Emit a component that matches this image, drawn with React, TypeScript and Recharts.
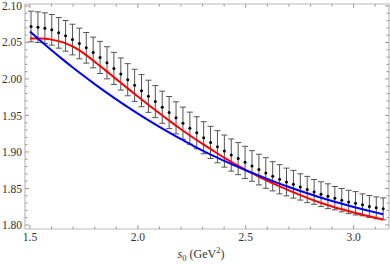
import React from 'react';
import { ComposedChart, XAxis, YAxis, Scatter, ErrorBar, Line, ReferenceArea } from 'recharts';

// s0 values of the sum-rule points (GeV^2)
const S0 = [
  1.505, 1.537, 1.569, 1.601, 1.633, 1.665, 1.697, 1.729, 1.761, 1.793,
  1.825, 1.857, 1.889, 1.921, 1.953, 1.985, 2.017, 2.049, 2.081, 2.113,
  2.145, 2.177, 2.209, 2.241, 2.273, 2.305, 2.337, 2.369, 2.401, 2.433,
  2.465, 2.497, 2.529, 2.561, 2.593, 2.625, 2.657, 2.689, 2.721, 2.753,
  2.785, 2.817, 2.849, 2.881, 2.913, 2.945, 2.977, 3.009, 3.041, 3.073,
  3.105, 3.137,
];
const CENTRAL = [
  2.0718, 2.0709, 2.0696, 2.0673, 2.0632, 2.0591, 2.054, 2.0486, 2.0427, 2.0363,
  2.0295, 2.0222, 2.0145, 2.0068, 1.999, 1.9913, 1.984, 1.9763, 1.969, 1.9613,
  1.954, 1.9468, 1.9394, 1.9326, 1.9263, 1.9195, 1.9131, 1.9072, 1.9012, 1.8958,
  1.8909, 1.8858, 1.8808, 1.8759, 1.8712, 1.8667, 1.8626, 1.8589, 1.8558, 1.8521,
  1.8486, 1.8453, 1.8422, 1.8394, 1.8367, 1.834, 1.8315, 1.8297, 1.8276, 1.8254,
  1.8235, 1.8221,
];
const ERR = [
  0.021, 0.021, 0.021, 0.021, 0.021, 0.021, 0.021, 0.021, 0.021, 0.021,
  0.022, 0.022, 0.022, 0.022, 0.022, 0.022, 0.022, 0.022, 0.022, 0.022,
  0.022, 0.022, 0.022, 0.022, 0.022, 0.022, 0.022, 0.022, 0.022, 0.022,
  0.022, 0.022, 0.021, 0.021, 0.021, 0.020, 0.020, 0.019, 0.019, 0.018,
  0.018, 0.017, 0.017, 0.017, 0.016, 0.016, 0.016, 0.016, 0.015, 0.015,
  0.015, 0.015,
];

// curve sample abscissae
const CURVE_S0 = [
  1.5, 1.55, 1.6, 1.65, 1.7, 1.75, 1.8, 1.85, 1.9, 1.95,
  2.0, 2.05, 2.1, 2.15, 2.2, 2.25, 2.3, 2.35, 2.4, 2.45,
  2.5, 2.55, 2.6, 2.65, 2.7, 2.75, 2.8, 2.85, 2.9, 2.95,
  3.0, 3.05, 3.1, 3.137,
];
const RED = [
  2.0554, 2.0553, 2.0539, 2.0505, 2.0442, 2.035, 2.0237, 2.0118, 1.9998, 1.9878,
  1.976, 1.9644, 1.953, 1.9419, 1.9312, 1.9209, 1.911, 1.9015, 1.8922, 1.8835,
  1.8752, 1.8678, 1.8606, 1.8538, 1.8474, 1.8413, 1.8355, 1.8302, 1.8254, 1.8211,
  1.8171, 1.8134, 1.81, 1.8076,
];
const BLUE = [
  2.0649, 2.0519, 2.0394, 2.0272, 2.0154, 2.004, 1.993, 1.9824, 1.9721, 1.9621,
  1.9525, 1.9433, 1.9344, 1.9258, 1.9175, 1.9096, 1.9019, 1.8946, 1.8878, 1.8812,
  1.875, 1.8689, 1.863, 1.8574, 1.852, 1.8469, 1.842, 1.8373, 1.8329, 1.8287,
  1.8247, 1.8209, 1.8173, 1.8147,
];

const X_TICKS = [1.5, 1.6, 1.7, 1.8, 1.9, 2.0, 2.1, 2.2, 2.3, 2.4, 2.5, 2.6, 2.7, 2.8, 2.9, 3.0, 3.1];
const X_LABELS = [1.5, 2.0, 2.5, 3.0];
const Y_TICKS = [
  1.8, 1.81, 1.82, 1.83, 1.84, 1.85, 1.86, 1.87, 1.88, 1.89, 1.9, 1.91, 1.92, 1.93, 1.94, 1.95,
  1.96, 1.97, 1.98, 1.99, 2.0, 2.01, 2.02, 2.03, 2.04, 2.05, 2.06, 2.07, 2.08, 2.09, 2.1,
];
const Y_LABELS = [1.8, 1.85, 1.9, 1.95, 2.0, 2.05, 2.1];

const X_DOMAIN: [number, number] = [1.477, 3.164];
const Y_DOMAIN: [number, number] = [1.7945, 2.1027];

const points = S0.map((x, i) => ({ x, y: CENTRAL[i], err: ERR[i] }));
const redData = CURVE_S0.map((x, i) => ({ x, v: RED[i] }));
const blueData = CURVE_S0.map((x, i) => ({ x, v: BLUE[i] }));

const W = 390;
const H = 264;
const M = { top: 4, right: 1, left: 0, bottom: 0 };
const YW = 25;
const XH = 35;
const PLOT_W = W - M.left - M.right - YW;
const PLOT_H = H - M.top - M.bottom - XH;

const FONT = '"Liberation Serif", "Times New Roman", serif';
const TEXT = '#333';
const TICK = '#999';
const FRAME = '#bbb';

const isIn = (arr: number[], v: number) => arr.some((m) => Math.abs(m - v) < 1e-6);

const XTick = (props: any) => {
  const { x, y, payload } = props;
  const v = payload.value as number;
  const major = isIn(X_LABELS, v);
  const len = major ? 4 : 2.5;
  return (
    <g>
      <line x1={x} x2={x} y1={y} y2={y - len} stroke={TICK} strokeWidth={1} />
      <line x1={x} x2={x} y1={y - PLOT_H} y2={y - PLOT_H + len} stroke={TICK} strokeWidth={1} />
      {major && (
        <text x={x} y={y + 11.5} textAnchor="middle" fontFamily={FONT} fontSize={11.5} fill={TEXT}>
          {v.toFixed(1)}
        </text>
      )}
    </g>
  );
};

const YTick = (props: any) => {
  const { x, y, payload } = props;
  const v = payload.value as number;
  const major = isIn(Y_LABELS, v);
  const len = major ? 4 : 2.5;
  return (
    <g>
      <line x1={x} x2={x + len} y1={y} y2={y} stroke={TICK} strokeWidth={1} />
      <line x1={x + PLOT_W} x2={x + PLOT_W - len} y1={y} y2={y} stroke={TICK} strokeWidth={1} />
      {major && (
        <text x={x - 3} y={y} dy="0.35em" textAnchor="end" fontFamily={FONT} fontSize={11.5} fill={TEXT}>
          {v.toFixed(2)}
        </text>
      )}
    </g>
  );
};

const AxisTitle = () => (
  <text x={M.left + YW + PLOT_W / 2 - 6} y={258} textAnchor="middle" fontFamily={FONT} fontSize={12} fill={TEXT}>
    <tspan fontStyle="italic">s</tspan>
    <tspan fontSize={8.5} dy={3}>0</tspan>
    <tspan dy={-3}>{'\u00A0(GeV'}</tspan>
    <tspan fontSize={8.5} dy={-5}>2</tspan>
    <tspan dy={5}>)</tspan>
  </text>
);

const Dot = (props: any) => {
  const { cx, cy } = props;
  if (cx == null || cy == null) return null;
  return <circle cx={cx} cy={cy} r={1.5} fill="#000" />;
};

export default function App() {
  return (
    <div style={{ position: 'absolute', left: 0, top: 0, width: W, height: H, background: '#fff' }}>
      <ComposedChart width={W} height={H} margin={M}>
        <XAxis
          type="number"
          dataKey="x"
          domain={X_DOMAIN}
          allowDataOverflow
          ticks={X_TICKS}
          interval={0}
          tick={XTick}
          tickLine={false}
          axisLine={false}
          tickSize={0}
          tickMargin={0}
          height={XH}
          label={{ content: AxisTitle }}
        />
        <YAxis
          type="number"
          domain={Y_DOMAIN}
          allowDataOverflow
          ticks={Y_TICKS}
          interval={0}
          tick={YTick}
          tickLine={false}
          axisLine={false}
          tickSize={0}
          tickMargin={0}
          width={YW}
        />
        <ReferenceArea
          x1={X_DOMAIN[0]}
          x2={X_DOMAIN[1]}
          y1={Y_DOMAIN[0]}
          y2={Y_DOMAIN[1]}
          fill="none"
          fillOpacity={0}
          stroke={FRAME}
          strokeWidth={1.2}
          ifOverflow="visible"
        />
        <Scatter data={points} dataKey="y" shape={Dot} isAnimationActive={false}>
          <ErrorBar dataKey="err" direction="y" width={3} stroke="#555" strokeWidth={1} isAnimationActive={false} />
        </Scatter>
        <Line data={redData} dataKey="v" type="monotone" dot={false} stroke="#ff0000" strokeWidth={2} isAnimationActive={false} />
        <Line data={blueData} dataKey="v" type="monotone" dot={false} stroke="#0000ff" strokeWidth={2} isAnimationActive={false} />
      </ComposedChart>
    </div>
  );
}
